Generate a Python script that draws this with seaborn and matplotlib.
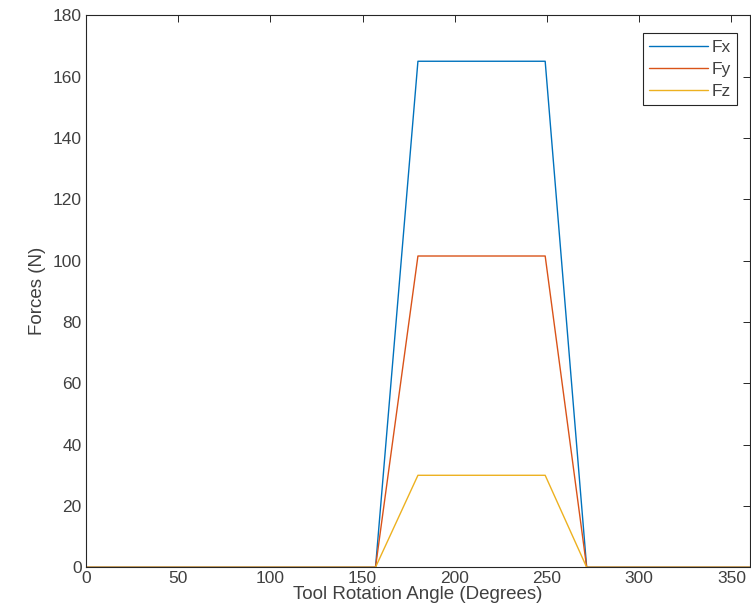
import numpy as np
import pandas as pd
import matplotlib
matplotlib.use("Agg")
import matplotlib.pyplot as plt
import seaborn as sns

# Cutting-force profile over one tool revolution
angle = [0, 157, 180, 249, 271.5, 360]
fx = [0, 0, 165, 165, 0, 0]
fy = [0, 0, 101.5, 101.5, 0, 0]
fz = [0, 0, 30, 30, 0, 0]
series_names = ["Fx", "Fy", "Fz"]
colors = ["#0072BD", "#D95319", "#EDB120"]

df = pd.DataFrame({
    "angle": angle * 3,
    "force": fx + fy + fz,
    "component": sum([[n] * len(angle) for n in series_names], []),
})

sns.set_theme(style="white")
plt.rcParams["font.family"] = ["Liberation Sans", "DejaVu Sans"]

fig = plt.figure(figsize=(7.51, 6.10), dpi=100)
ax = fig.add_axes([0.1145, 0.070, 0.884, 0.905])

sns.lineplot(data=df, x="angle", y="force", hue="component",
             palette=colors, linewidth=1.0, ax=ax, sort=False,
             estimator=None)

ax.set_xlim(0, 360)
ax.set_ylim(0, 180)
ax.set_xticks(np.arange(0, 351, 50))
ax.set_yticks(np.arange(0, 181, 20))
ax.tick_params(direction="in", length=5, width=0.7, top=True, right=True,
               labelsize=12.5, colors="#262626", labelcolor="#404040", pad=3)
for s in ax.spines.values():
    s.set_visible(True)
    s.set_color("#262626")
    s.set_linewidth(0.8)

ax.set_xlabel("Tool Rotation Angle (Degrees)", fontsize=13.5, color="#404040", labelpad=0)
ax.set_ylabel("Forces (N)", fontsize=13.5, color="#404040", labelpad=5)

leg = ax.legend(loc="upper right", bbox_to_anchor=(0.98, 0.967), fontsize=12.5,
                handlelength=3.4, handletextpad=0.2, borderpad=0.35,
                labelspacing=0.4, fancybox=False, framealpha=1,
                edgecolor="#262626", borderaxespad=0)
leg.get_frame().set_linewidth(0.8)
for t in leg.get_texts():
    t.set_color("#404040")

fig.savefig("out.png", dpi=100)
